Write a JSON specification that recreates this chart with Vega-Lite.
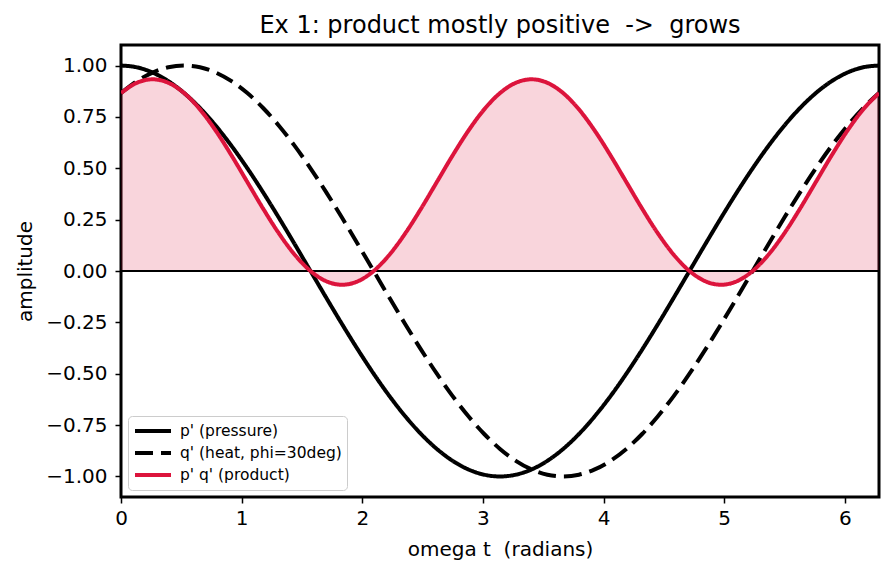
{
  "$schema": "https://vega.github.io/schema/vega-lite/v6.json",
  "width": 758,
  "height": 452,
  "autosize": {"type": "none"},
  "padding": {"left": 121, "top": 45, "right": 15, "bottom": 76},
  "background": "white",
  "title": {"text": "Ex 1: product mostly positive \u00a0->\u00a0 grows", "fontSize": 24, "fontWeight": "normal", "font": "DejaVu Sans", "color": "black", "anchor": "middle", "baseline": "alphabetic", "offset": 12, "dy": 24},
  "config": {
    "font": "DejaVu Sans",
    "view": {"stroke": "black", "strokeWidth": 3},
    "axis": {"domain": false, "grid": false, "labelFlush": false, "tickColor": "black", "tickWidth": 1.5, "tickSize": 6, "labelColor": "black", "labelFontSize": 20, "titleFontSize": 20, "titleFontWeight": "normal", "titleColor": "black", "labelFont": "DejaVu Sans", "titleFont": "DejaVu Sans"}
  },
  "data": {"values": [
    {"t":0,"p":1,"q":0.86603,"pq":0.86603},
    {"t":0.1309,"p":0.99144,"q":0.92388,"pq":0.91598},
    {"t":0.2618,"p":0.96593,"q":0.96593,"pq":0.93301},
    {"t":0.3927,"p":0.92388,"q":0.99144,"pq":0.91598},
    {"t":0.5236,"p":0.86603,"q":1,"pq":0.86603},
    {"t":0.6545,"p":0.79335,"q":0.99144,"pq":0.78657},
    {"t":0.7854,"p":0.70711,"q":0.96593,"pq":0.68301},
    {"t":0.9163,"p":0.60876,"q":0.92388,"pq":0.56242},
    {"t":1.0472,"p":0.5,"q":0.86603,"pq":0.43301},
    {"t":1.1781,"p":0.38268,"q":0.79335,"pq":0.30360},
    {"t":1.3090,"p":0.25882,"q":0.70711,"pq":0.18301},
    {"t":1.4399,"p":0.13053,"q":0.60876,"pq":0.07946},
    {"t":1.5708,"p":0,"q":0.5,"pq":0},
    {"t":1.7017,"p":-0.13053,"q":0.38268,"pq":-0.04995},
    {"t":1.8326,"p":-0.25882,"q":0.25882,"pq":-0.06699},
    {"t":1.9635,"p":-0.38268,"q":0.13053,"pq":-0.04995},
    {"t":2.0944,"p":-0.5,"q":0,"pq":0},
    {"t":2.2253,"p":-0.60876,"q":-0.13053,"pq":0.07946},
    {"t":2.3562,"p":-0.70711,"q":-0.25882,"pq":0.18301},
    {"t":2.4871,"p":-0.79335,"q":-0.38268,"pq":0.30360},
    {"t":2.6180,"p":-0.86603,"q":-0.5,"pq":0.43301},
    {"t":2.7489,"p":-0.92388,"q":-0.60876,"pq":0.56242},
    {"t":2.8798,"p":-0.96593,"q":-0.70711,"pq":0.68301},
    {"t":3.0107,"p":-0.99144,"q":-0.79335,"pq":0.78657},
    {"t":3.1416,"p":-1,"q":-0.86603,"pq":0.86603},
    {"t":3.2725,"p":-0.99144,"q":-0.92388,"pq":0.91598},
    {"t":3.4034,"p":-0.96593,"q":-0.96593,"pq":0.93301},
    {"t":3.5343,"p":-0.92388,"q":-0.99144,"pq":0.91598},
    {"t":3.6652,"p":-0.86603,"q":-1,"pq":0.86603},
    {"t":3.7961,"p":-0.79335,"q":-0.99144,"pq":0.78657},
    {"t":3.9270,"p":-0.70711,"q":-0.96593,"pq":0.68301},
    {"t":4.0579,"p":-0.60876,"q":-0.92388,"pq":0.56242},
    {"t":4.1888,"p":-0.5,"q":-0.86603,"pq":0.43301},
    {"t":4.3197,"p":-0.38268,"q":-0.79335,"pq":0.30360},
    {"t":4.4506,"p":-0.25882,"q":-0.70711,"pq":0.18301},
    {"t":4.5815,"p":-0.13053,"q":-0.60876,"pq":0.07946},
    {"t":4.7124,"p":0,"q":-0.5,"pq":0},
    {"t":4.8433,"p":0.13053,"q":-0.38268,"pq":-0.04995},
    {"t":4.9742,"p":0.25882,"q":-0.25882,"pq":-0.06699},
    {"t":5.1051,"p":0.38268,"q":-0.13053,"pq":-0.04995},
    {"t":5.2360,"p":0.5,"q":0,"pq":0},
    {"t":5.3669,"p":0.60876,"q":0.13053,"pq":0.07946},
    {"t":5.4978,"p":0.70711,"q":0.25882,"pq":0.18301},
    {"t":5.6287,"p":0.79335,"q":0.38268,"pq":0.30360},
    {"t":5.7596,"p":0.86603,"q":0.5,"pq":0.43301},
    {"t":5.8905,"p":0.92388,"q":0.60876,"pq":0.56242},
    {"t":6.0214,"p":0.96593,"q":0.70711,"pq":0.68301},
    {"t":6.1523,"p":0.99144,"q":0.79335,"pq":0.78657},
    {"t":6.2832,"p":1,"q":0.86603,"pq":0.86603}
  ]},
  "layer": [
    {
      "mark": {"type": "area", "color": "#dc143c", "opacity": 0.18, "interpolate": "monotone", "clip": true},
      "encoding": {
        "x": {"field": "t", "type": "quantitative", "scale": {"domain": [0, 6.2832], "nice": false, "zero": false}, "axis": {"values": [0,1,2,3,4,5,6], "format": "d", "title": "omega t \u00a0(radians)", "labelPadding": 5, "titlePadding": 11}},
        "y": {"field": "pq", "type": "quantitative", "scale": {"domain": [-1.1, 1.1], "nice": false, "zero": false}, "axis": {"values": [-1,-0.75,-0.5,-0.25,0,0.25,0.5,0.75,1], "format": ".2f", "title": "amplitude", "labelPadding": 8, "titlePadding": 10}},
        "y2": {"datum": 0}
      }
    },
    {
      "mark": {"type": "rule", "color": "black", "strokeWidth": 1.5},
      "encoding": {"y": {"datum": 0}}
    },
    {
      "transform": [{"fold": ["p", "q", "pq"], "as": ["series", "value"]}],
      "mark": {"type": "line", "strokeWidth": 4, "interpolate": "monotone", "clip": true},
      "encoding": {
        "x": {"field": "t", "type": "quantitative"},
        "y": {"field": "value", "type": "quantitative"},
        "color": {"field": "series", "type": "nominal", "scale": {"domain": ["p", "q", "pq"], "range": ["black", "black", "#dc143c"]},
          "legend": {"title": null, "orient": "bottom-left", "offset": 7, "padding": 5, "strokeColor": "#cccccc", "cornerRadius": 4, "fillColor": "rgba(255,255,255,0.8)", "symbolType": "stroke", "symbolSize": 1296, "symbolStrokeWidth": 4, "labelFontSize": 15.5, "labelColor": "black", "labelOffset": 7, "labelLimit": 400, "clipHeight": 20, "rowPadding": 2,
            "labelExpr": "datum.label == 'p' ? \"p' (pressure)\" : datum.label == 'q' ? \"q' (heat, phi=30deg)\" : \"p' q' (product)\""}},
        "strokeDash": {"field": "series", "type": "nominal", "scale": {"domain": ["p", "q", "pq"], "range": [[1, 0], [18, 8], [1, 0]]},
          "legend": {"title": null, "orient": "bottom-left", "offset": 7, "padding": 5, "strokeColor": "#cccccc", "cornerRadius": 4, "fillColor": "rgba(255,255,255,0.8)", "symbolType": "stroke", "symbolSize": 1296, "symbolStrokeWidth": 4, "labelFontSize": 15.5, "labelColor": "black", "labelOffset": 7, "labelLimit": 400, "clipHeight": 20, "rowPadding": 2,
            "labelExpr": "datum.label == 'p' ? \"p' (pressure)\" : datum.label == 'q' ? \"q' (heat, phi=30deg)\" : \"p' q' (product)\""}}
      }
    }
  ]
}
